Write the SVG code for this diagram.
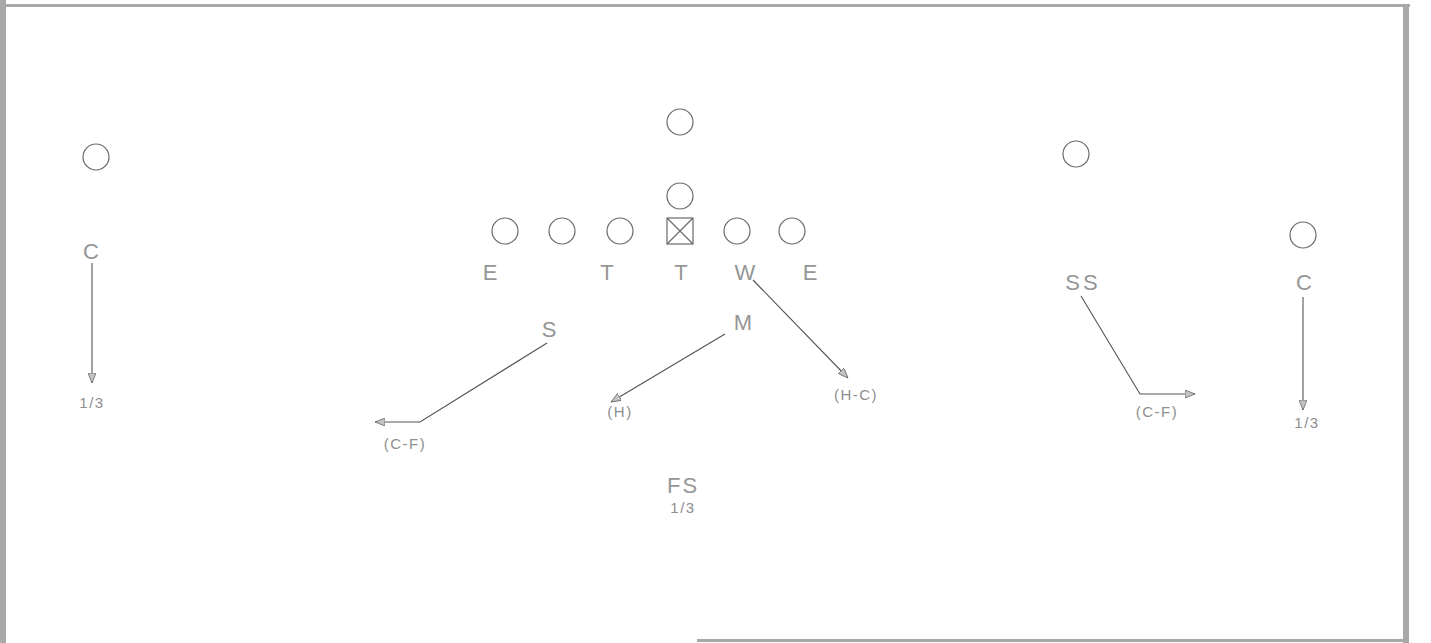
<svg xmlns="http://www.w3.org/2000/svg" width="1431" height="643" viewBox="0 0 1431 643">
<defs>
<style>
.pl{fill:none;stroke:#6a6a6a;stroke-width:1.2}
.lbl{font-family:"Liberation Sans",Arial,sans-serif;font-size:22px;fill:#969696;text-anchor:middle;letter-spacing:2px}
.sm{font-family:"Liberation Sans",Arial,sans-serif;font-size:15px;fill:#8e8e8e;text-anchor:middle;letter-spacing:1.5px}
.rt{fill:none;stroke:#555555;stroke-width:1.1}
.edge{fill:#a8a8a8}
</style>
<marker id="ah" viewBox="0 0 10 8" refX="10" refY="4" markerWidth="10" markerHeight="8" markerUnits="userSpaceOnUse" orient="auto">
<path d="M0,0 L10,4 L0,8 Z" fill="#c4c4c4" stroke="#666666" stroke-width="0.8"/>
</marker>
</defs>
<rect width="1431" height="643" fill="#ffffff"/>
<g id="border">
<rect class="edge" x="0" y="0" width="6" height="643"/>
<rect class="edge" x="0" y="4" width="1410" height="3"/>
<rect class="edge" x="1403" y="4" width="6" height="639"/>
<rect class="edge" x="697" y="639" width="712" height="3"/>
</g>
<g id="players">
<g id="left-corner-pos"><circle class="pl" cx="96" cy="157" r="13"/></g>
<g id="qb-deep"><circle class="pl" cx="680" cy="122" r="13"/></g>
<g id="qb"><circle class="pl" cx="680" cy="196" r="13"/></g>
<g id="ol1"><circle class="pl" cx="505" cy="231" r="13"/></g>
<g id="ol2"><circle class="pl" cx="562" cy="231" r="13"/></g>
<g id="ol3"><circle class="pl" cx="620" cy="231" r="13"/></g>
<g id="center"><rect class="pl" x="667" y="218" width="26" height="26"/><path class="pl" d="M667,218 L693,244 M693,218 L667,244"/></g>
<g id="ol5"><circle class="pl" cx="737" cy="231" r="13"/></g>
<g id="ol6"><circle class="pl" cx="792" cy="231" r="13"/></g>
<g id="right-wide"><circle class="pl" cx="1076" cy="154" r="13"/></g>
<g id="right-corner-pos"><circle class="pl" cx="1303" cy="235" r="13"/></g>
</g>
<g id="labels">
<g id="lbl-c-left"><text class="lbl" x="92" y="259">C</text></g>
<g id="lbl-e1"><text class="lbl" x="491" y="280">E</text></g>
<g id="lbl-t1"><text class="lbl" x="608" y="280">T</text></g>
<g id="lbl-t2"><text class="lbl" x="682" y="280">T</text></g>
<g id="lbl-w"><text class="lbl" x="746" y="280">W</text></g>
<g id="lbl-e2"><text class="lbl" x="811" y="280">E</text></g>
<g id="lbl-s"><text class="lbl" x="550" y="337">S</text></g>
<g id="lbl-m"><text class="lbl" x="744" y="330">M</text></g>
<g id="lbl-ss"><text class="lbl" x="1083" y="290" style="letter-spacing:3px">SS</text></g>
<g id="lbl-c-right"><text class="lbl" x="1305" y="290">C</text></g>
<g id="lbl-fs"><text class="lbl" x="683" y="493">FS</text><text class="sm" x="683" y="513">1/3</text></g>
<text class="sm" x="92" y="408">1/3</text>
<text class="sm" x="1307" y="428">1/3</text>
<text class="sm" x="405" y="449">(C-F)</text>
<text class="sm" x="620" y="417">(H)</text>
<text class="sm" x="856" y="400">(H-C)</text>
<text class="sm" x="1157" y="417">(C-F)</text>
</g>
<g id="connectors">
<path class="rt" d="M92,263 L92,383" marker-end="url(#ah)"/>
<path class="rt" d="M547,343 L420,422 L375,422" marker-end="url(#ah)"/>
<path class="rt" d="M725,334 L611,402" marker-end="url(#ah)"/>
<path class="rt" d="M753,280 L848,378" marker-end="url(#ah)"/>
<path class="rt" d="M1081,296 L1140,394 L1195,394" marker-end="url(#ah)"/>
<path class="rt" d="M1303,297 L1303,410" marker-end="url(#ah)"/>
</g>
</svg>
